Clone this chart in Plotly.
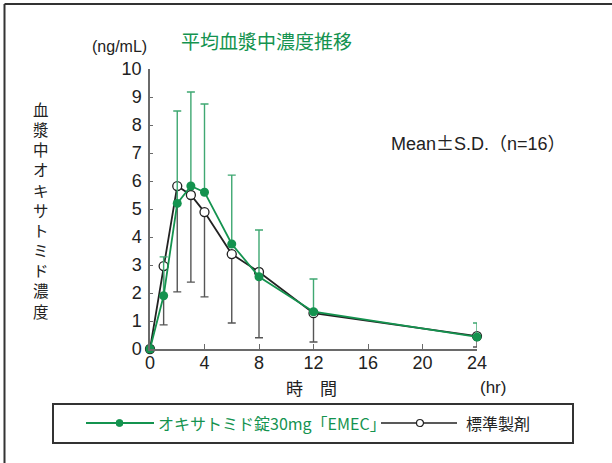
import plotly.graph_objects as go

# ---- data ----
time_hr = [0, 1, 2, 3, 4, 6, 8, 12, 24]
test_mean = [0, 1.90, 5.20, 5.82, 5.60, 3.75, 2.58, 1.33, 0.43]
test_sd = [0, 1.39, 3.30, 3.36, 3.15, 2.46, 1.67, 1.17, 0.50]
ref_mean = [0, 2.96, 5.82, 5.50, 4.89, 3.39, 2.75, 1.28, 0.46]
ref_sd = [0, 2.10, 3.78, 3.11, 3.03, 2.46, 2.35, 1.03, 0.39]
x_ticks = [0, 4, 8, 12, 16, 20, 24]
y_ticks = list(range(0, 11))

test_name = "オキサトミド錠30mg「EMEC」"
ref_name = "標準製剤"
y_title = "血漿中オキサトミド濃度"

GREEN = "#14934f"
GREEN_BAR = "#3fa872"
BLACK = "#222222"
GRAY_BAR = "#555555"
AXIS = "#6a6a6a"
JP = "Noto Sans CJK JP"
LAT = "Liberation Sans, Noto Sans CJK JP, sans-serif"
NUM = "Liberation Sans Narrow, Arial Narrow, Liberation Sans, sans-serif"

W, H = 612, 463
L, R, T, B = 150, 477, 69, 349  # plot area pixels


def px(x):
    return (x - L) / (R - L)


def py(y):
    return (B - y) / (B - T)


fig = go.Figure()

# reference product (open circles, lower SD)
fig.add_trace(go.Scatter(
    x=time_hr, y=ref_mean, mode="lines+markers", name=ref_name,
    line=dict(color=BLACK, width=1.8),
    marker=dict(symbol="circle", size=9, color="white", line=dict(color=BLACK, width=1.3)),
    error_y=dict(type="data", symmetric=False, array=[0] * len(ref_sd), arrayminus=ref_sd,
                 color=GRAY_BAR, thickness=1.4, width=4),
    cliponaxis=False, showlegend=False,
))

# test product (filled green, upper SD)
fig.add_trace(go.Scatter(
    x=time_hr, y=test_mean, mode="lines+markers", name=test_name,
    line=dict(color=GREEN, width=1.8),
    marker=dict(symbol="circle", size=9, color=GREEN),
    error_y=dict(type="data", symmetric=False, array=test_sd, arrayminus=[0] * len(test_sd),
                 color=GREEN_BAR, thickness=1.4, width=4),
    cliponaxis=False, showlegend=False,
))

shapes = []
# outer frame (left and top edges visible)
shapes.append(dict(type="line", xref="paper", yref="paper", x0=px(4.5), x1=px(640), y0=py(4), y1=py(4),
                   line=dict(color="#333333", width=2)))
shapes.append(dict(type="line", xref="paper", yref="paper", x0=px(4.5), x1=px(4.5), y0=py(4), y1=py(480),
                   line=dict(color="#333333", width=2)))
# legend box
shapes.append(dict(type="rect", xref="paper", yref="paper", x0=px(53), x1=px(573), y0=py(443), y1=py(404),
                   line=dict(color="#333333", width=2), fillcolor="rgba(0,0,0,0)"))
ly = 423
shapes.append(dict(type="line", xref="paper", yref="paper", x0=px(86), x1=px(154), y0=py(ly), y1=py(ly),
                   line=dict(color=GREEN, width=1.8)))
shapes.append(dict(type="circle", xref="paper", yref="paper", x0=px(116), x1=px(123), y0=py(ly + 3.5), y1=py(ly - 3.5),
                   line=dict(color=GREEN, width=1), fillcolor=GREEN))
shapes.append(dict(type="line", xref="paper", yref="paper", x0=px(381), x1=px(457), y0=py(ly), y1=py(ly),
                   line=dict(color=BLACK, width=1.5)))
shapes.append(dict(type="circle", xref="paper", yref="paper", x0=px(416.5), x1=px(423.5), y0=py(ly + 3.5), y1=py(ly - 3.5),
                   line=dict(color=BLACK, width=1.2), fillcolor="white"))

annotations = [
    dict(text="平均血漿中濃度推移", x=px(266), y=py(41), xref="paper", yref="paper", showarrow=False,
         xanchor="center", yanchor="middle", font=dict(family=JP, size=19, color=GREEN)),
    dict(text="(ng/mL)", x=px(119), y=py(46), xref="paper", yref="paper", showarrow=False,
         xanchor="center", yanchor="middle", font=dict(family=LAT, size=16, color="#222")),
    dict(text="Mean<span style='font-family:Noto Sans CJK JP'>±</span>S.D.（n=16）",
         x=px(389), y=py(142), xref="paper", yref="paper", showarrow=False,
         xanchor="left", yanchor="middle", font=dict(family=LAT, size=18, color="#222")),
    dict(text="時　間", x=px(311), y=py(387), xref="paper", yref="paper", showarrow=False,
         xanchor="center", yanchor="middle", font=dict(family=JP, size=17, color="#222")),
    dict(text="(hr)", x=px(493), y=py(387), xref="paper", yref="paper", showarrow=False,
         xanchor="center", yanchor="middle", font=dict(family=LAT, size=17, color="#222")),
    dict(text=test_name, x=px(156), y=py(ly), xref="paper", yref="paper", showarrow=False,
         xanchor="left", yanchor="middle", font=dict(family=JP, size=16, color=GREEN)),
    dict(text=ref_name, x=px(464), y=py(ly), xref="paper", yref="paper", showarrow=False,
         xanchor="left", yanchor="middle", font=dict(family=JP, size=16, color="#222")),
    # vertical y-axis title, one character per row
    dict(text="<br>".join(list(y_title)), x=px(41), y=py(210), xref="paper", yref="paper",
         showarrow=False, xanchor="center", yanchor="middle",
         font=dict(family=JP, size=15.5, color="#222")),
]

fig.update_layout(
    width=W, height=H,
    margin=dict(l=L, r=W - R, t=T, b=H - B, pad=0),
    paper_bgcolor="white", plot_bgcolor="white",
    shapes=shapes, annotations=annotations,
    showlegend=False,
    xaxis=dict(range=[0, 24], tickvals=x_ticks, ticktext=[str(v) for v in x_ticks],
               showgrid=False, zeroline=False, showline=True, linecolor=AXIS, linewidth=1.5,
               ticks="inside", ticklen=5, tickcolor=AXIS, tickwidth=1.2, ticklabelstandoff=-3,
               tickfont=dict(family=NUM, size=18, color="#222")),
    yaxis=dict(range=[0, 10], tickvals=y_ticks, ticktext=[str(v) for v in y_ticks],
               showgrid=False, zeroline=False, showline=True, linecolor=AXIS, linewidth=1.5,
               ticks="inside", ticklen=3, tickcolor=AXIS, tickwidth=1.2, ticklabelstandoff=3,
               tickfont=dict(family=NUM, size=18, color="#222")),
)

fig.write_html("out.html", config={"displayModeBar": False},
               post_script="document.body.style.margin='0';")
